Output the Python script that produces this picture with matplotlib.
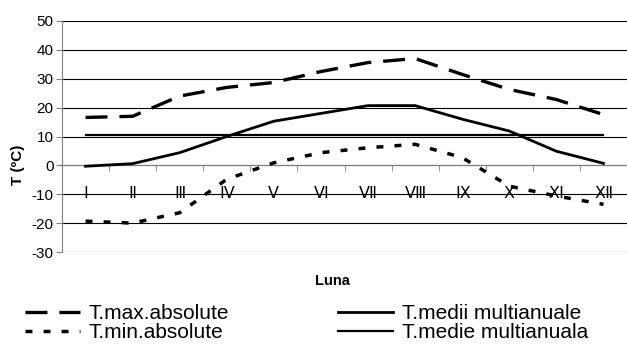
import matplotlib
matplotlib.use("Agg")
import matplotlib.pyplot as plt

plt.rcParams['font.family'] = ['Liberation Sans', 'DejaVu Sans']
plt.rcParams['lines.scale_dashes'] = False
plt.rcParams['axes.unicode_minus'] = False

months = ['Ⅰ', 'Ⅱ', 'Ⅲ', 'Ⅳ', 'Ⅴ', 'Ⅵ', 'Ⅶ', 'Ⅷ', 'Ⅸ', 'Ⅹ', 'Ⅺ', 'Ⅻ']
t_max_abs = [16.6, 17.0, 24.0, 27.0, 28.7, 32.5, 35.6, 37.0, 31.5, 26.3, 22.8, 17.6]
t_medii = [-0.3, 0.6, 4.4, 10.0, 15.3, 18.0, 20.7, 20.7, 16.0, 11.9, 4.9, 0.7]
t_min_abs = [-19.3, -20.0, -16.4, -4.8, 0.9, 4.4, 6.1, 7.3, 2.7, -7.2, -10.6, -13.5]
t_medie = [10.4] * 12
y_ticks = [-30, -20, -10, 0, 10, 20, 30, 40, 50]

fig = plt.figure(figsize=(6.27, 3.45), dpi=100)
ax = fig.add_axes([62 / 627, 93 / 345, 1 - 62 / 627, 231 / 345])

x = list(range(len(months)))
ax.plot(x, t_max_abs, color='black', lw=2.4, dashes=(15.8, 8.6),
        dash_capstyle='butt', label='T.max.absolute', zorder=3)
ax.plot(x, t_min_abs, color='black', lw=2.5, dashes=(5, 8), dash_capstyle='butt',
        label='T.min.absolute', zorder=3)
ax.plot(x, t_medii, color='black', lw=2.0, label='T.medii multianuale', zorder=3)
ax.plot(x, t_medie, color='black', lw=1.6, label='T.medie multianuala', zorder=3)

ax.set_xlim(-0.5, 11.5)
ax.set_ylim(-30, 50)
ax.set_yticks(y_ticks)
ax.yaxis.grid(True, color='black', lw=0.8)
ax.set_axisbelow(True)

for s in ['top', 'right']:
    ax.spines[s].set_visible(False)
ax.spines['bottom'].set_position(('data', 0))
ax.spines['bottom'].set_color('#808080')
ax.spines['left'].set_color('#808080')
ax.spines['bottom'].set_zorder(2)

ax.set_xticks(x)
ax.set_xticklabels(months)
ax.set_xticks([i - 0.5 for i in range(13)], minor=True)
ax.tick_params(axis='x', which='major', length=0, pad=15, labelsize=11.5)
ax.tick_params(axis='x', which='minor', length=4, direction='out', color='#808080')
ax.tick_params(axis='y', length=4, direction='out', color='#808080', labelsize=11, pad=2)

ax.set_xlabel('Luna', fontsize=10.5, fontweight='bold', va='top')
ax.xaxis.set_label_coords((332 - 62) / 565, (252 - 274) / 231)
ax.set_ylabel('T (ºC)', fontsize=11, fontweight='bold', va='center', ha='center')
ax.yaxis.set_label_coords((18 - 62) / 565, (252 - 165) / 231)

h, l = ax.get_legend_handles_labels()
leg = fig.legend(h, l, ncol=2, loc='upper left', bbox_to_anchor=(25 / 627, 1 - 304 / 345),
                 frameon=False, fontsize=15, handlelength=2.65, handletextpad=0.42,
                 columnspacing=5.2, labelspacing=0.0, borderpad=0, borderaxespad=0)

fig.savefig('out.png', dpi=100)
